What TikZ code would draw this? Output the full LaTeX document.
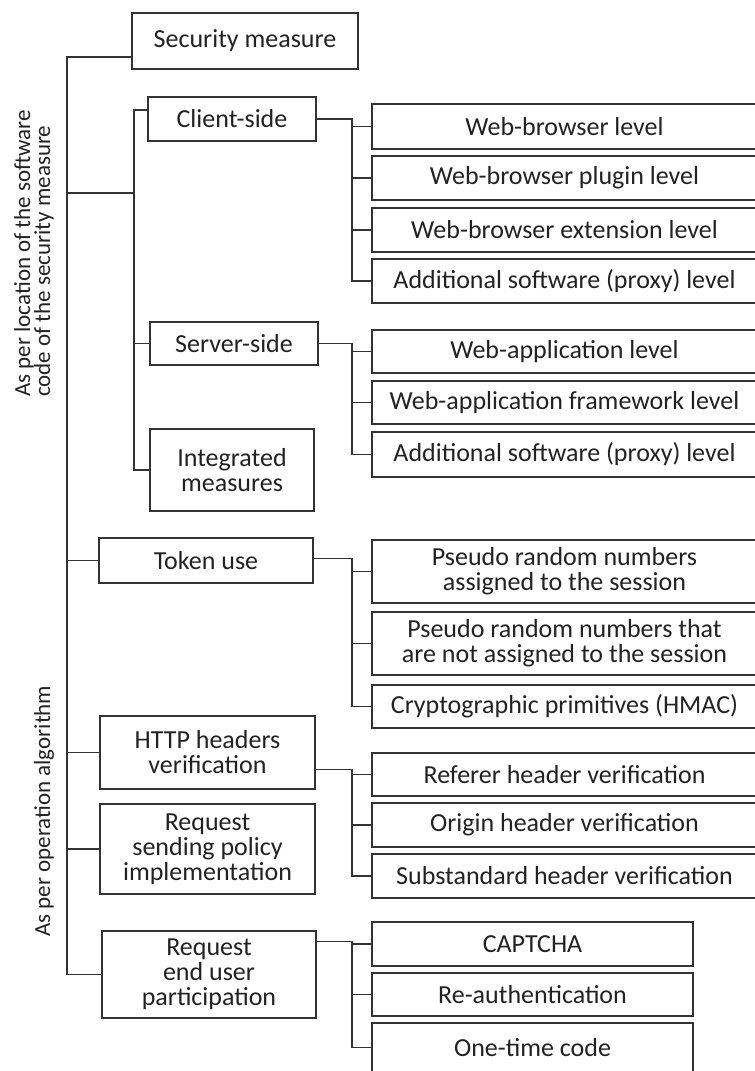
\documentclass[tikz,border=0pt]{standalone}
\usepackage{fontspec}
\setmainfont{Carlito}
\usepackage{xcolor}
\usetikzlibrary{calc}
\definecolor{Wire}{HTML}{333333}
\definecolor{Ink}{HTML}{222222}
\tikzset{
  catbox/.style={draw=Wire,line width=1.6pt,align=center,text=Ink,inner sep=0pt,
                 font=\fontsize{26}{25}\selectfont},
  link/.style={draw=Wire,line width=1.6pt},
  sidelabel/.style={rotate=90,anchor=west,align=left,inner sep=0pt,text=Ink,
                    font=\fontsize{23}{20}\selectfont}
}
% box from its left/top and right/bottom corners (px, y downwards)
\newcommand{\catnode}[6]{%
  \node[catbox,minimum width={(#4-#2)*1pt},minimum height={(#5-#3)*1pt}]
    (#1) at ({(#2+#4)/2},{(#3+#5)/2}) {#6};}

\begin{document}
\begin{tikzpicture}[x=1pt,y=-1pt]
  \useasboundingbox (0,0) rectangle (755,1071);

  % root and first level
  \catnode{sm}{132}{13}{358}{69}{Security measure}
  \catnode{cs}{148}{97}{316}{141}{Client-side}
  \catnode{ss}{150}{322}{318}{365}{Server-side}
  \catnode{im}{150}{429}{314}{511}{Integrated\\measures}
  \catnode{tok}{99}{538}{313}{583}{Token use}
  \catnode{http}{100}{716}{315}{789}{HTTP headers\\verification}
  \catnode{rsp}{100}{804}{315}{894}{Request\\sending policy\\implementation}
  \catnode{reu}{102}{931}{316}{1018}{Request\\end user\\participation}

  % client-side levels
  \catnode{c1}{372}{104}{757}{149}{Web-browser level}
  \catnode{c2}{372}{156}{757}{200}{Web-browser plugin level}
  \catnode{c3}{372}{208}{757}{252}{Web-browser extension level}
  \catnode{c4}{372}{259}{757}{303}{Additional software (proxy) level}
  % server-side levels
  \catnode{s1}{372}{330}{757}{373}{Web-application level}
  \catnode{s2}{372}{381}{757}{424}{Web-application framework level}
  \catnode{s3}{372}{432}{757}{477}{Additional software (proxy) level}
  % tokens
  \catnode{t1}{372}{540}{757}{603}{Pseudo random numbers\\assigned to the session}
  \catnode{t2}{372}{612}{757}{675}{Pseudo random numbers that\\are not assigned to the session}
  \catnode{t3}{372}{685}{757}{728}{Cryptographic primitives (HMAC)}
  % headers
  \catnode{h1}{372}{753}{757}{796}{Referer header verification}
  \catnode{h2}{372}{803}{757}{847}{Origin header verification}
  \catnode{h3}{372}{854}{757}{898}{Substandard header verification}
  % user participation
  \catnode{u1}{372}{922}{693}{966}{CAPTCHA}
  \catnode{u2}{372}{973}{693}{1016}{Re-authentication}
  \catnode{u3}{372}{1023}{693}{1072}{One-time code}

  % classification criteria
  \node[sidelabel] (byloc) at (34,397) {As per location of the software\\code of the security measure};
  \node[sidelabel] (byalg) at (44,937) {As per operation algorithm};

  % main spine and its branches
  \coordinate (sp) at (68,0);
  \coordinate (loc) at (135,193);
  \draw[link] ([yshift=-16pt]sm.west) -| ([xshift=-34pt]reu.west) -- (reu.west);
  \foreach \n in {tok,http,rsp}
    \draw[link] (\n.west) -- (\n.west -| sp);
  \draw[link] (loc) -- (loc -| sp);

  % location sub-spine
  \draw[link] ([yshift=9pt]cs.west) -| ([xshift=-15pt]im.west) -- (im.west);
  \draw[link] (ss.west) -- (ss.west -| loc);

  % leaves
  \foreach \c in {c1,c2,c3,c4}
    \draw[link] (cs.east) -| ([xshift=-19pt]\c.west) -- (\c.west);
  \foreach \c in {s1,s2,s3}
    \draw[link] (ss.east) -| ([xshift=-19pt]\c.west) -- (\c.west);
  \foreach \c in {t1,t2,t3}
    \draw[link] ([yshift=2pt]tok.east) -| ([xshift=-19pt]\c.west) -- (\c.west);
  \foreach \c in {h1,h2,h3}
    \draw[link] ([yshift=-17pt]http.east) -| ([xshift=-19pt]\c.west) -- (\c.west);
  \foreach \c in {u1,u2,u3}
    \draw[link] ([yshift=33pt]reu.east) -| ([xshift=-19pt]\c.west) -- (\c.west);
\end{tikzpicture}
\end{document}
